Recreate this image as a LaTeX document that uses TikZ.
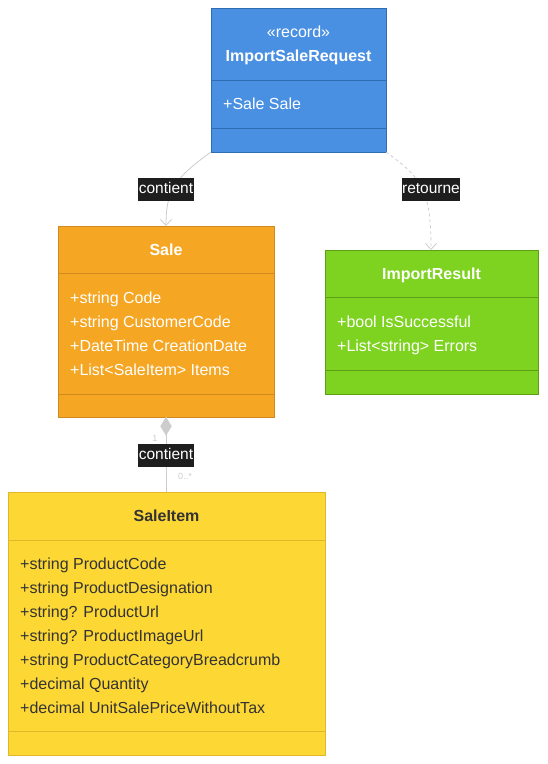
\documentclass[tikz,border=0pt]{standalone}
\usepackage{fontspec}
\setmainfont{Liberation Sans}
\usetikzlibrary{arrows.meta,shapes.geometric}
\definecolor{bluefill}{HTML}{4A90E2}
\definecolor{blueline}{HTML}{2F6DB3}
\definecolor{orfill}{HTML}{F5A623}
\definecolor{orline}{HTML}{D08A1E}
\definecolor{grfill}{HTML}{7ED321}
\definecolor{grline}{HTML}{5E9E16}
\definecolor{yefill}{HTML}{FDD835}
\definecolor{yeline}{HTML}{E2B82A}
\definecolor{linkc}{HTML}{CCCCCC}
\definecolor{darktxt}{HTML}{333333}
\definecolor{lblbg}{HTML}{1E1E1E}
\tikzset{
  x=1pt,y=-1pt,
  every node/.style={font=\fontsize{16}{19}\selectfont, inner sep=0pt, text height=11.5pt, text depth=3.5pt},
  ttl/.style={font=\fontsize{16}{19}\selectfont\bfseries},
  attr/.style={anchor=west},
  lbl/.style={fill=lblbg,text=white,inner xsep=0.5pt,inner ysep=4pt,font=\fontsize{15.5}{18}\selectfont},
  mult/.style={text=linkc,font=\fontsize{9}{10}\selectfont,text height=6pt,text depth=0pt},
  conn/.style={draw=linkc,line width=0.8pt},
  openarrow/.style={-{Straight Barb[length=6pt,width=11pt,line width=0.8pt]}}
}
\begin{document}
\begin{tikzpicture}
\useasboundingbox (0,0) rectangle (547,764);
% ImportSaleRequest
\draw[fill=bluefill,draw=blueline,line width=1pt] (211,8) rectangle (386,152);
\draw[blueline,line width=1pt] (211,80) -- (386,80) (211,128) -- (386,128);
\node[text=white] (isrst) at (298.5,33) {«record»};
\node[ttl,text=white] (isr) at (298.5,57) {ImportSaleRequest};
\node[attr,text=white] at (223,105) {+Sale Sale};
\coordinate (isrBL) at (211,152);
\coordinate (isrBR) at (386,152);
% Sale
\draw[fill=orfill,draw=orline,line width=1pt] (58,226) rectangle (274,417);
\draw[orline,line width=1pt] (58,273) -- (274,273) (58,394) -- (274,394);
\node[ttl,text=white] (sale) at (166,251) {Sale};
\node[attr,text=white] at (70,299) {+string Code};
\node[attr,text=white] at (70,323) {+string CustomerCode};
\node[attr,text=white] at (70,347) {+DateTime CreationDate};
\node[attr,text=white] at (70,371) {+List<SaleItem> Items};
\coordinate (saleT) at (166,226);
\coordinate (saleB) at (166,417);
% ImportResult
\draw[fill=grfill,draw=grline,line width=1pt] (325,250) rectangle (538,394);
\draw[grline,line width=1pt] (325,297) -- (538,297) (325,370) -- (538,370);
\node[ttl,text=white] (ir) at (431.5,275) {ImportResult};
\node[attr,text=white] at (337,323) {+bool IsSuccessful};
\node[attr,text=white] at (337,347) {+List<string> Errors};
\coordinate (irT) at (431,250);
% SaleItem
\draw[fill=yefill,draw=yeline,line width=1pt] (8,492) rectangle (325,755);
\draw[yeline,line width=1pt] (8,540) -- (325,540) (8,731) -- (325,731);
\node[ttl,text=darktxt] (si) at (166.5,517) {SaleItem};
\node[attr,text=darktxt] at (20,565) {+string ProductCode};
\node[attr,text=darktxt] at (20,589) {+string ProductDesignation};
\node[attr,text=darktxt] at (20,613) {+string? ProductUrl};
\node[attr,text=darktxt] at (20,637) {+string? ProductImageUrl};
\node[attr,text=darktxt] at (20,661) {+string ProductCategoryBreadcrumb};
\node[attr,text=darktxt] at (20,685) {+decimal Quantity};
\node[attr,text=darktxt] at (20,709) {+decimal UnitSalePriceWithoutTax};
\coordinate (siT) at (166,492);
% connectors
\draw[conn,openarrow] (isrBL) .. controls (175,178) and (166,190) .. (saleT);
\node[lbl] (l1) at (166,189) {contient};
\draw[conn,dashed,dash pattern=on 3pt off 3pt,openarrow] (isrBR) .. controls (422,178) and (431,190) .. (irT);
\node[lbl] (l2) at (431,189) {retourne};
\draw[conn] (saleB) -- (siT);
\node[diamond,fill=linkc,draw=linkc,minimum width=11pt,minimum height=18pt,anchor=north,text height=0pt,text depth=0pt] (dia) at (saleB) {};
\node[lbl] (l3) at (166,455) {contient};
\node[mult] (m1) at (155,438) {1};
\node[mult] (m2) at (185,476) {0..*};
\end{tikzpicture}
\end{document}
